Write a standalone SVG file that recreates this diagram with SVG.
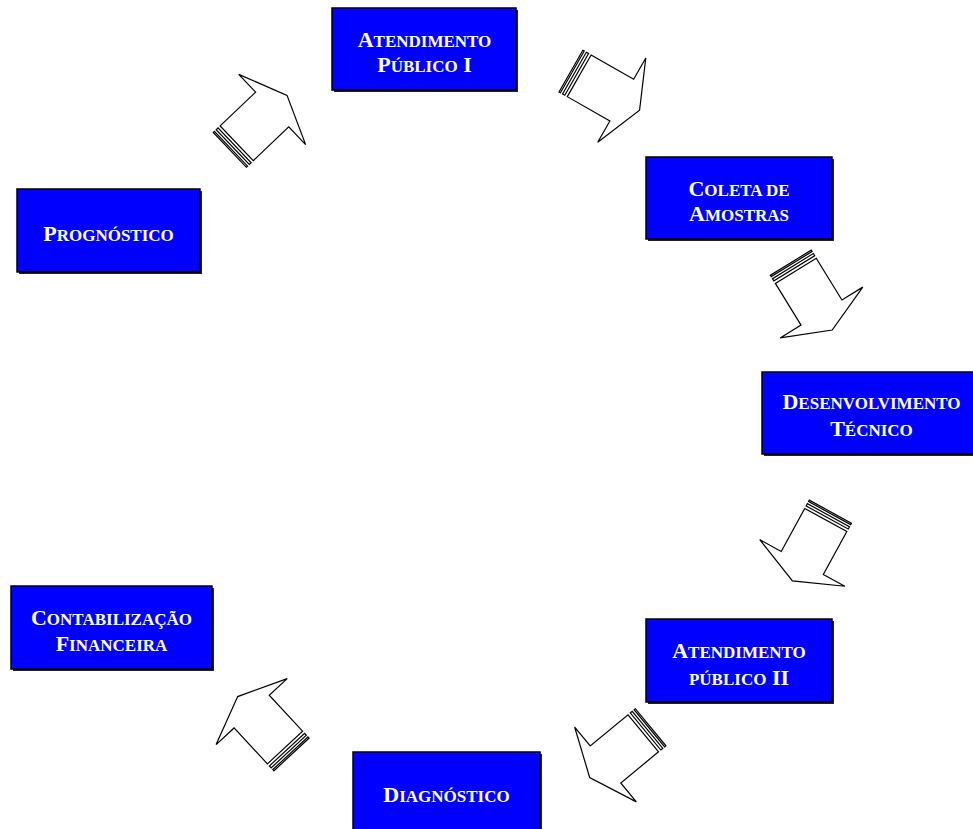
<svg xmlns="http://www.w3.org/2000/svg" width="973" height="829" viewBox="0 0 973 829">
<style>
.box{fill:#0000FF;stroke:#000;stroke-width:1.5}
.shd{fill:#222}
.t{font-family:"Liberation Serif","Times New Roman",serif;font-weight:bold;font-size:22px;fill:#fff;text-anchor:middle}
.sc{font-size:17px;text-transform:uppercase}
.arr{fill:#fff;stroke:#000;stroke-width:1.2;stroke-linejoin:miter}
</style>
<defs>
<g id="arrow">
<path class="arr" d="M0,-24 L49,-24 L49,-48.5 L69.5,0 L49,48.5 L49,24 L0,24 Z"/>
<rect class="arr" x="-5.5" y="-24" width="2.6" height="48"/>
<rect class="arr" x="-9.5" y="-24" width="1.6" height="48"/>
</g>
</defs>
<rect width="973" height="829" fill="#fff"/>
<g id="connectors">
<use href="#arrow" transform="translate(236.7,143.3) rotate(-43.6)"/>
<use href="#arrow" transform="translate(579.2,75.8) rotate(29.7)"/>
<use href="#arrow" transform="translate(795.8,270.8) rotate(58.4)"/>
<use href="#arrow" transform="translate(825.8,520) rotate(118.7)"/>
<use href="#arrow" transform="translate(643.3,733.3) rotate(140.5)"/>
<use href="#arrow" transform="translate(285,747.5) rotate(227.1)"/>
</g>
<g id="atendimento1">
<rect class="shd" x="334" y="10" width="184" height="82"/>
<rect class="box" x="332" y="8" width="184" height="82"/>
<text class="t" x="424.5" y="47">A<tspan class="sc">tendimento</tspan></text>
<text class="t" x="424.5" y="72">P<tspan class="sc">úblico</tspan> I</text>
</g>
<g id="coleta">
<rect class="shd" x="648" y="159" width="186" height="82"/>
<rect class="box" x="646" y="157" width="186" height="82"/>
<text class="t" x="739" y="196">C<tspan class="sc">oleta de</tspan></text>
<text class="t" x="739" y="221">A<tspan class="sc">mostras</tspan></text>
</g>
<g id="desenvolvimento">
<rect class="shd" x="764" y="374" width="218" height="82"/>
<rect class="box" x="762" y="372" width="218" height="82"/>
<text class="t" x="871.5" y="409">D<tspan class="sc">esenvolvimento</tspan></text>
<text class="t" x="871.5" y="436">T<tspan class="sc">écnico</tspan></text>
</g>
<g id="atendimento2">
<rect class="shd" x="648" y="621" width="186" height="83"/>
<rect class="box" x="646" y="619" width="186" height="83"/>
<text class="t" x="739" y="657.5">A<tspan class="sc">tendimento</tspan></text>
<text class="t" x="739" y="684.5"><tspan class="sc">público</tspan> II</text>
</g>
<g id="diagnostico">
<rect class="shd" x="355" y="754" width="187" height="82"/>
<rect class="box" x="353" y="752" width="187" height="82"/>
<text class="t" x="446.5" y="802">D<tspan class="sc">iagnóstico</tspan></text>
</g>
<g id="contabilizacao">
<rect class="shd" x="13" y="588" width="201" height="83"/>
<rect class="box" x="11" y="586" width="201" height="83"/>
<text class="t" x="111.5" y="625">C<tspan class="sc">ontabilização</tspan></text>
<text class="t" x="111.5" y="651">F<tspan class="sc">inanceira</tspan></text>
</g>
<g id="prognostico">
<rect class="shd" x="19" y="191" width="183" height="83"/>
<rect class="box" x="17" y="189" width="183" height="83"/>
<text class="t" x="108.5" y="241">P<tspan class="sc">rognóstico</tspan></text>
</g>
</svg>
